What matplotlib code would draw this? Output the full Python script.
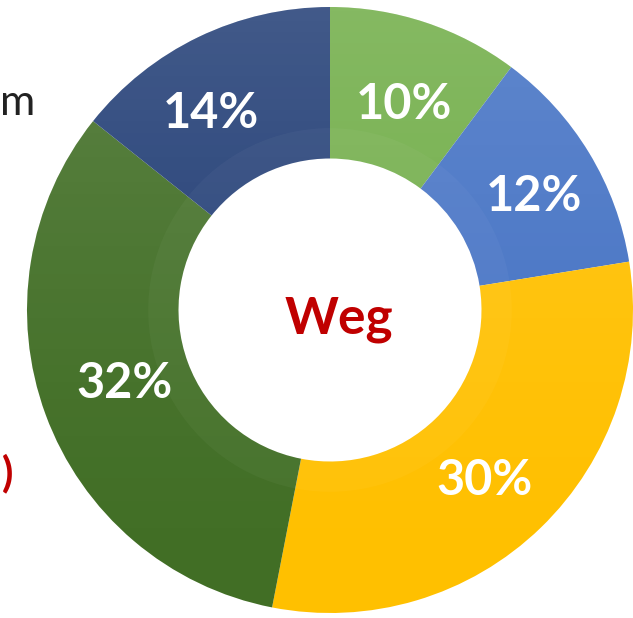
import numpy as np
import matplotlib.pyplot as plt
from matplotlib.patches import Circle

# shares clockwise from 12 o'clock
shares = [10, 12, 30, 32, 14]
labels = ["10%", "12%", "30%", "32%", "14%"]
colors = ["#70AD47", "#4472C4", "#FFC000", "#416E25", "#213D75"]
center_text = "Weg"

plt.rcParams['font.family'] = ['Lato', 'DejaVu Sans']

fig = plt.figure(figsize=(6.33, 6.18), dpi=100)
ax = fig.add_axes([0, 0, 1, 1])

wedges, _ = ax.pie(shares, colors=colors, startangle=90, counterclock=False,
                   radius=1.0, wedgeprops=dict(width=0.5, linewidth=0))

# slight bevel ring around the hole
ax.pie(shares, colors=["white"] * len(shares), startangle=90, counterclock=False,
       radius=0.6, wedgeprops=dict(width=0.1, linewidth=0, alpha=0.035))

# soft vertical light gradient over the ring (lighter at top)
grad = np.linspace(0, 1, 256).reshape(-1, 1)
rgba = np.zeros((256, 1, 4))
rgba[..., :3] = 1.0
rgba[..., 3] = 0.15 * grad[:, 0:1] ** 1.5
img = ax.imshow(rgba, extent=[-1, 1, -1, 1], origin="lower", aspect="auto", zorder=3)
img.set_clip_path(Circle((0, 0), 1.0, transform=ax.transData))

# label placement: (radius, extra angle in degrees, clockwise)
label_layout = [(0.72, 1.5), (0.77, 2), (0.76, 2), (0.72, 0.5), (0.76, -5.5)]
for w, lab, (r, da) in zip(wedges, labels, label_layout):
    mid = (w.theta1 + w.theta2) / 2 - da
    x = r * np.cos(np.deg2rad(mid))
    y = r * np.sin(np.deg2rad(mid))
    ax.text(x, y, lab, ha="center", va="center", color="white",
            fontsize=35, fontweight="bold", zorder=4)

ax.text(0.03, -0.03, center_text, ha="center", va="center", color="#C00000",
        fontsize=37, fontweight="bold", zorder=4)

# text from the slide on the left
ax.text(-330 / 303, 0.645, "m", ha="left", va="baseline", color="#222222",
        fontsize=31, zorder=4)
ax.text(-1.044, -0.54, ")", ha="right", va="center", color="#C00000",
        fontsize=30, fontweight="bold", zorder=4)

ax.set_xlim(-330 / 303, 303 / 303)
ax.set_ylim(-308 / 303, 310 / 303)
ax.axis("off")

fig.savefig("out.png", dpi=100)
